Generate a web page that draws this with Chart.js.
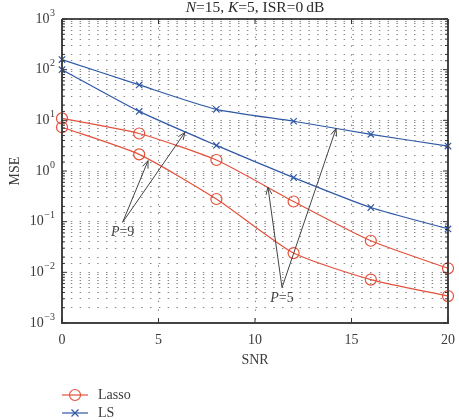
<!DOCTYPE html>
<html>
<head>
<meta charset="utf-8">
<script src="https://cdn.jsdelivr.net/npm/chart.js@4.4.0/dist/chart.umd.min.js"></script>
<style>
  html, body { margin: 0; padding: 0; background: #fff; }
  #wrap { width: 459px; height: 420px; position: relative; }
</style>
</head>
<body>
<div id="wrap"><canvas id="mseChart"></canvas></div>
<script>
// SNR sample points
const snr = [0, 4, 8, 12, 16, 20];

// MSE values
const lassoP5 = [10.9, 5.5, 1.65, 0.25, 0.042, 0.012];
const lassoP9 = [7.3, 2.13, 0.28, 0.024, 0.0072, 0.0034];
const lsP5 = [158, 50, 16.5, 9.6, 5.3, 3.1];
const lsP9 = [100, 15, 3.2, 0.74, 0.19, 0.072];

const xTickLabels = [0, 5, 10, 15, 20];
const yDecades = [-3, -2, -1, 0, 1, 2, 3];

// annotation arrows in data units: [fromSNR, fromMSE, toSNR, toMSE]
const arrowsP9 = [[3.14, 0.097, 4.46, 1.6], [3.14, 0.097, 6.37, 5.8]];
const arrowsP5 = [[11.4, 0.005, 10.67, 0.48], [11.4, 0.005, 14.2, 6.9]];
const annoLabels = [
    { text: '9', x: 3.14, y: 0.063 },
    { text: '5', x: 11.4, y: 0.0031 }
];

const RED = '#e4513c';
const BLUE = '#2f58a6';
const SERIF = '"Liberation Serif", "DejaVu Serif", serif';
const TXT = '#3a3a3a';

function series(values) {
    return values.map((v, i) => ({ x: snr[i], y: v }));
}

function lassoSet(values, label) {
    return {
        label: label,
        data: series(values),
        borderColor: RED,
        borderWidth: 1.2,
        pointStyle: 'circle',
        pointRadius: 5.5,
        pointBorderWidth: 1.2,
        pointBorderColor: RED,
        pointBackgroundColor: 'rgba(0,0,0,0)',
        tension: 0.2,
        clip: false
    };
}

function lsSet(values, label) {
    return {
        label: label,
        data: series(values),
        borderColor: BLUE,
        borderWidth: 1.2,
        pointStyle: 'crossRot',
        pointRadius: 4.5,
        pointBorderWidth: 1.2,
        pointBorderColor: BLUE,
        tension: 0.2,
        clip: false
    };
}

function drawArrow(ctx, x1, y1, x2, y2) {
    const ang = Math.atan2(y2 - y1, x2 - x1);
    const len = 8, spread = 0.38;
    ctx.beginPath();
    ctx.moveTo(x1, y1);
    ctx.lineTo(x2, y2);
    ctx.moveTo(x2 - len * Math.cos(ang - spread), y2 - len * Math.sin(ang - spread));
    ctx.lineTo(x2, y2);
    ctx.lineTo(x2 - len * Math.cos(ang + spread), y2 - len * Math.sin(ang + spread));
    ctx.stroke();
}

// draws a list of [text, italic] pieces centered at x
function drawRich(ctx, pieces, cx, y, size) {
    let total = 0;
    pieces.forEach(p => {
        ctx.font = (p[1] ? 'italic ' : '') + size + 'px ' + SERIF;
        total += ctx.measureText(p[0]).width;
    });
    let x = cx - total / 2;
    ctx.textAlign = 'left';
    pieces.forEach(p => {
        ctx.font = (p[1] ? 'italic ' : '') + size + 'px ' + SERIF;
        ctx.fillText(p[0], x, y);
        x += ctx.measureText(p[0]).width;
    });
}

const decorPlugin = {
    id: 'decor',
    afterDraw(chart) {
        const ctx = chart.ctx;
        const xs = chart.scales.x, ys = chart.scales.y;
        const a = chart.chartArea;
        ctx.save();

        // frame
        ctx.strokeStyle = '#111';
        ctx.lineWidth = 1.3;
        ctx.beginPath();
        ctx.moveTo(a.left, a.top);
        ctx.lineTo(a.right, a.top);
        ctx.stroke();
        ctx.strokeStyle = '#444';
        ctx.lineWidth = 2;
        ctx.beginPath();
        ctx.moveTo(a.left, a.top);
        ctx.lineTo(a.left, a.bottom);
        ctx.lineTo(a.right, a.bottom);
        ctx.lineTo(a.right, a.top);
        ctx.stroke();

        // inward ticks
        ctx.lineWidth = 1;
        ctx.strokeStyle = '#333';
        ys.ticks.forEach(t => {
            const py = ys.getPixelForValue(t.value);
            const major = Math.abs(Math.log10(t.value) - Math.round(Math.log10(t.value))) < 1e-6;
            const l = major ? 5 : 3;
            ctx.beginPath();
            ctx.moveTo(a.left, py); ctx.lineTo(a.left + l, py);
            ctx.moveTo(a.right, py); ctx.lineTo(a.right - l, py);
            ctx.stroke();
        });
        xTickLabels.forEach(v => {
            const px = xs.getPixelForValue(v);
            ctx.beginPath();
            ctx.moveTo(px, a.bottom); ctx.lineTo(px, a.bottom - 5);
            ctx.moveTo(px, a.top); ctx.lineTo(px, a.top + 5);
            ctx.stroke();
        });

        // tick labels
        ctx.fillStyle = TXT;
        ctx.textBaseline = 'middle';
        ctx.font = '14px ' + SERIF;
        ctx.textAlign = 'center';
        xTickLabels.forEach(v => {
            ctx.fillText(String(v), xs.getPixelForValue(v), a.bottom + 17);
        });
        yDecades.forEach(e => {
            const py = ys.getPixelForValue(Math.pow(10, e));
            const ex = e < 0 ? '\u2212' + (-e) : String(e);
            ctx.font = '10px ' + SERIF;
            const ew = ctx.measureText(ex).width;
            ctx.textAlign = 'right';
            ctx.fillText(ex, 55, py - 6);
            ctx.font = '14px ' + SERIF;
            ctx.fillText('10', 55 - ew - 0.5, py);
        });

        // axis titles
        ctx.font = '14px ' + SERIF;
        ctx.textAlign = 'center';
        ctx.fillText('SNR', (a.left + a.right) / 2, 360);
        ctx.save();
        ctx.translate(15, (a.top + a.bottom) / 2);
        ctx.rotate(-Math.PI / 2);
        ctx.fillText('MSE', 0, 0);
        ctx.restore();

        // title
        ctx.fillStyle = '#2a2a2a';
        ctx.textBaseline = 'alphabetic';
        drawRich(ctx, [['N', true], ['=15, ', false], ['K', true], ['=5, ISR=0\u2009dB', false]],
            (a.left + a.right) / 2, 12, 15.5);

        // annotation arrows
        ctx.strokeStyle = '#444';
        ctx.lineWidth = 1;
        arrowsP9.concat(arrowsP5).forEach(r => {
            drawArrow(ctx, xs.getPixelForValue(r[0]), ys.getPixelForValue(r[1]),
                xs.getPixelForValue(r[2]), ys.getPixelForValue(r[3]));
        });
        ctx.fillStyle = '#444';
        ctx.textBaseline = 'middle';
        annoLabels.forEach(l => {
            drawRich(ctx, [['P', true], ['=' + l.text, false]],
                xs.getPixelForValue(l.x), ys.getPixelForValue(l.y), 14);
        });

        // legend
        const legend = [
            { name: 'Lasso', color: RED, y: 395, mark: 'o' },
            { name: 'LS', color: BLUE, y: 413, mark: 'x' }
        ];
        legend.forEach(it => {
            ctx.strokeStyle = it.color;
            ctx.lineWidth = 1.2;
            ctx.beginPath();
            ctx.moveTo(62, it.y); ctx.lineTo(88, it.y);
            ctx.stroke();
            ctx.beginPath();
            if (it.mark === 'o') {
                ctx.arc(75, it.y, 5.5, 0, Math.PI * 2);
            } else {
                ctx.moveTo(71.5, it.y - 3.5); ctx.lineTo(78.5, it.y + 3.5);
                ctx.moveTo(71.5, it.y + 3.5); ctx.lineTo(78.5, it.y - 3.5);
            }
            ctx.stroke();
            ctx.fillStyle = TXT;
            ctx.font = '14px ' + SERIF;
            ctx.textAlign = 'left';
            ctx.fillText(it.name, 98, it.y);
        });

        ctx.restore();
    }
};

const gridDash = [1.5, 7.3];

new Chart(document.getElementById('mseChart'), {
    type: 'line',
    data: {
        datasets: [
            lassoSet(lassoP5, 'Lasso P=5'),
            lassoSet(lassoP9, 'Lasso P=9'),
            lsSet(lsP5, 'LS P=5'),
            lsSet(lsP9, 'LS P=9')
        ]
    },
    options: {
        responsive: true,
        maintainAspectRatio: false,
        animation: false,
        layout: { padding: { left: 62, top: 19, right: 11, bottom: 97 } },
        plugins: {
            legend: { display: false },
            title: { display: false },
            tooltip: { enabled: false }
        },
        scales: {
            x: {
                type: 'linear',
                min: 0,
                max: 20,
                ticks: { display: false, stepSize: 5 },
                grid: { color: '#8a8a8a', lineWidth: 1, drawTicks: false },
                border: { display: false, dash: gridDash },
                afterFit: s => { s.height = 0; }
            },
            y: {
                type: 'logarithmic',
                min: 1e-3,
                max: 1e3,
                ticks: { display: false },
                grid: { color: '#8a8a8a', lineWidth: 1, drawTicks: false },
                border: { display: false, dash: gridDash },
                afterFit: s => { s.width = 0; }
            }
        }
    },
    plugins: [decorPlugin]
});
</script>
</body>
</html>
